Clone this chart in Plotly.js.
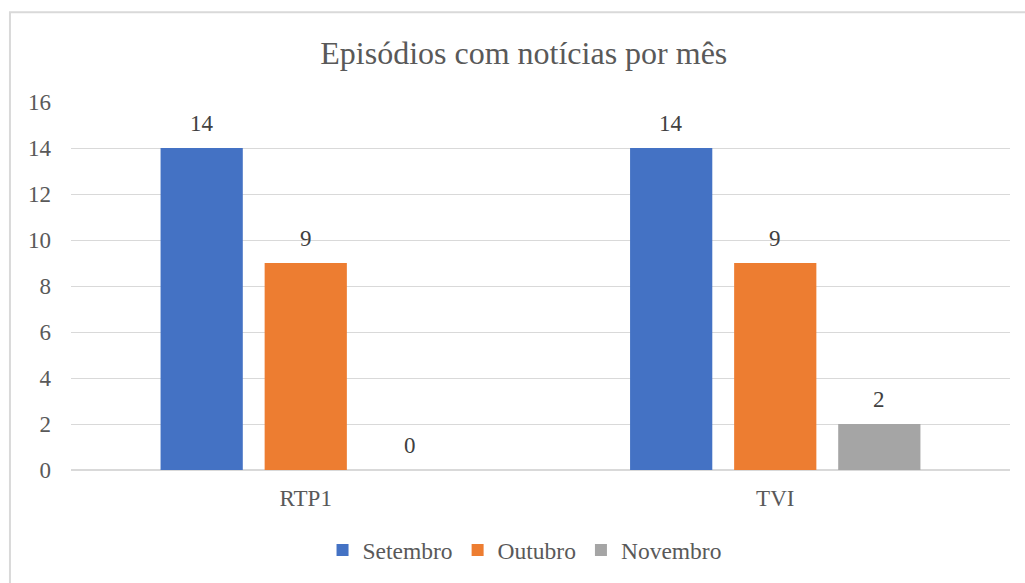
<!DOCTYPE html>
<html>
<head>
<meta charset="utf-8">
<script src="https://cdn.plot.ly/plotly-3.0.1.min.js"></script>
<style>html,body{margin:0;padding:0;background:#fff;}#chart{width:1025px;height:583px;}</style>
</head>
<body>
<div id="chart"></div>
<script>
const categories = ["RTP1", "TVI"];
const seriesNames = ["Setembro", "Outubro", "Novembro"];
const setembro = [14, 14];
const outubro = [9, 9];
const novembro = [0, 2];
const colors = ["#4472C4", "#ED7D31", "#A5A5A5"];
const allValues = [setembro, outubro, novembro];
const yTicks = [0, 2, 4, 6, 8, 10, 12, 14, 16];

const FONT = "Liberation Serif, serif";
const BARGAP = 0.335;
const nSeries = allValues.length;

const traces = allValues.map((vals, i) => ({
  type: "bar",
  name: seriesNames[i],
  x: categories,
  y: vals,
  marker: {color: colors[i]},
  hoverinfo: "none"
}));

// value labels above bars, positioned through the category axis
const slot = (1 - BARGAP) / nSeries;
const annotations = [];
allValues.forEach((vals, j) => {
  vals.forEach((v, c) => {
    annotations.push({
      xref: "x", yref: "y",
      x: c + (j - (nSeries - 1) / 2) * slot,
      y: v,
      text: String(v),
      showarrow: false,
      yanchor: "bottom",
      yshift: 10,
      font: {family: FONT, size: 23, color: "#404040"}
    });
  });
});

const layout = {
  width: 1025, height: 583,
  margin: {l: 71, r: 15, t: 102, b: 112},
  paper_bgcolor: "#fff", plot_bgcolor: "#fff",
  font: {family: FONT, color: "#595959", size: 23},
  title: {text: "Episódios com notícias por mês", xref: "container", x: 0.511, xanchor: "center", y: 0.91, yanchor: "middle",
          font: {family: FONT, size: 32, color: "#595959"}},
  barmode: "group",
  bargap: BARGAP,
  bargroupgap: 0.21,
  xaxis: {type: "category", range: [-0.5, 1.5], showgrid: false, showline: false, ticks: "",
          tickfont: {family: FONT, size: 23, color: "#595959"}, ticklabelstandoff: 12},
  yaxis: {range: [0, 16], tickvals: yTicks, ticktext: yTicks.map(String), showgrid: true, gridcolor: "#d9d9d9", gridwidth: 1,
          zeroline: true, zerolinecolor: "#d9d9d9", zerolinewidth: 1.5, showline: false, ticks: "",
          tickfont: {family: FONT, size: 23, color: "#595959"}, ticklabelstandoff: 19},
  legend: {orientation: "h", x: 0.483, xanchor: "center", y: -0.215, yanchor: "middle",
           font: {family: FONT, size: 23.5, color: "#595959"}, itemwidth: 30, traceorder: "normal"},
  showlegend: true,
  annotations: annotations,
  shapes: [{type: "rect", xref: "paper", yref: "paper", x0: -0.065, x1: 1.05, y0: -0.35, y1: 1.244,
            line: {color: "#d9d9d9", width: 2}, fillcolor: "rgba(0,0,0,0)", layer: "below"}]
};

Plotly.newPlot("chart", traces, layout, {displayModeBar: false, staticPlot: true});
</script>
</body>
</html>
